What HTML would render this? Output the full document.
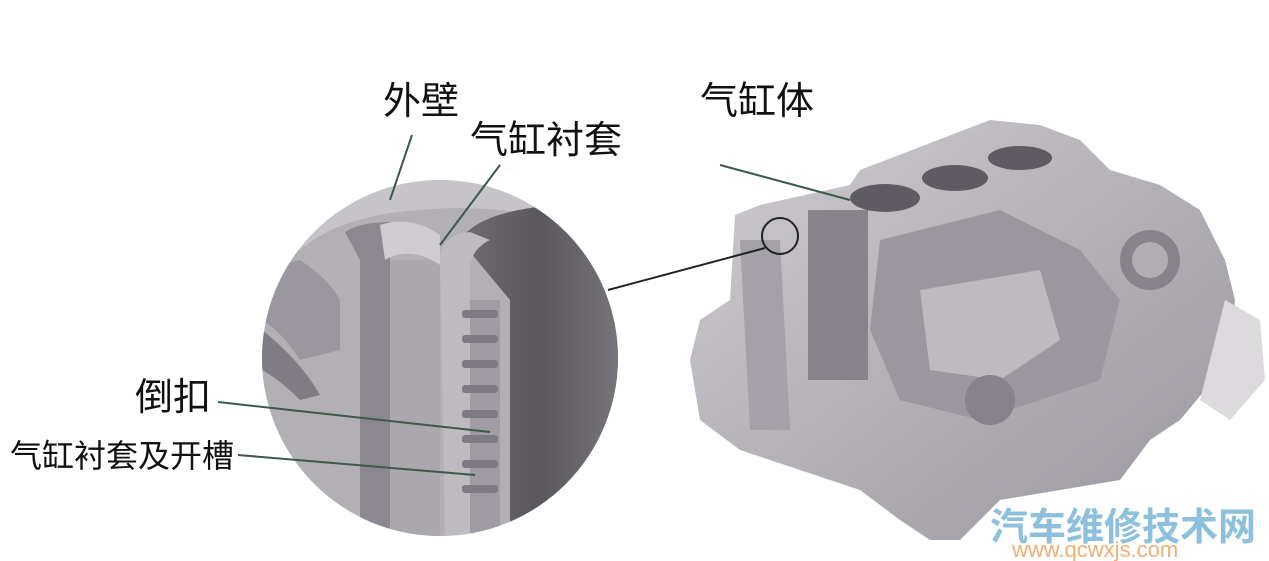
<!DOCTYPE html>
<html><head><meta charset="utf-8"><style>
html,body{margin:0;padding:0;background:#fff}
svg{display:block}
text{font-family:"Liberation Sans","Noto Sans CJK SC",sans-serif}
</style></head><body>
<svg width="1269" height="561" viewBox="0 0 1269 561" xmlns="http://www.w3.org/2000/svg">
<defs>
<clipPath id="c"><circle cx="440" cy="358" r="178"/></clipPath>
<linearGradient id="bore" x1="0" x2="1"><stop offset="0" stop-color="#6e6c70"/><stop offset="0.5" stop-color="#5a585c"/><stop offset="1" stop-color="#77757a"/></linearGradient>
<linearGradient id="eng" x1="0" y1="0" x2="1" y2="1"><stop offset="0" stop-color="#d0cdd2"/><stop offset="0.5" stop-color="#b3b0b6"/><stop offset="1" stop-color="#9a979e"/></linearGradient>
</defs>
<rect width="1269" height="561" fill="#fff"/>
<g clip-path="url(#c)">
<rect x="260" y="180" width="360" height="360" fill="#b3b0b5"/>
<path d="M260 180 H620 V240 Q520 200 420 210 Q340 215 300 250 L260 260Z" fill="#c7c4c9"/>
<path d="M460 240 Q480 210 560 205 L620 210 V540 H510 V300 Z" fill="url(#bore)"/>
<path d="M440 260 Q440 235 470 232 L490 240 Q470 250 470 270 V540 H445 Z" fill="#bdbac0"/>
<rect x="470" y="300" width="30" height="240" fill="#9f9ca3"/>
<g fill="#7d7a82">
<rect x="462" y="310" width="36" height="8" rx="3"/>
<rect x="462" y="335" width="36" height="8" rx="3"/>
<rect x="462" y="360" width="36" height="8" rx="3"/>
<rect x="462" y="385" width="36" height="8" rx="3"/>
<rect x="462" y="410" width="36" height="8" rx="3"/>
<rect x="462" y="435" width="36" height="8" rx="3"/>
<rect x="462" y="460" width="36" height="8" rx="3"/>
<rect x="462" y="485" width="36" height="8" rx="3"/>
</g>
<path d="M345 232 Q360 222 390 222 V540 H360 V260 Z" fill="#8b888f"/>
<rect x="390" y="260" width="50" height="280" fill="#aaa7ad"/>
<path d="M380 225 Q410 215 440 235 L440 265 Q410 245 385 260Z" fill="#cfccd1"/>
<path d="M260 270 L300 260 Q330 280 340 300 V350 L300 360 Q280 330 262 320Z" fill="#9a979e"/>
<path d="M262 330 Q300 360 320 395 L300 400 Q280 380 262 370Z" fill="#7f7c83"/>
</g>
<path d="M735 215 L760 205 L850 185 L860 170 L990 120 L1040 125 L1080 140 L1110 170 L1160 185 L1200 210 L1225 260 L1235 300 L1230 360 L1180 420 L1150 440 L1120 480 L1000 500 L960 540 L930 540 L900 520 L860 490 L800 470 L740 450 L700 420 L690 360 L700 320 L730 300 Z" fill="url(#eng)"/>
<path d="M1225 300 L1260 320 L1265 380 L1230 420 L1200 400Z" fill="#dcdadd"/>
<rect x="808" y="210" width="60" height="170" fill="#86838a"/>
<ellipse cx="885" cy="198" rx="35" ry="14" fill="#5e5b62"/>
<ellipse cx="955" cy="178" rx="33" ry="13" fill="#5e5b62"/>
<ellipse cx="1020" cy="158" rx="32" ry="12" fill="#5e5b62"/>
<path d="M880 240 L1000 210 L1080 250 L1120 300 L1100 380 L1040 400 L980 420 L900 400 L870 330Z" fill="#9a979e"/>
<path d="M920 290 L1040 270 L1060 340 L1000 380 L930 370Z" fill="#bdbac0"/>
<circle cx="1150" cy="260" r="30" fill="#86838a"/>
<circle cx="1150" cy="260" r="18" fill="#b0adb3"/>
<path d="M740 240 L780 240 L790 430 L750 430Z" fill="#a4a1a8"/>
<circle cx="990" cy="400" r="25" fill="#86838a"/>
<circle cx="780" cy="236" r="18" fill="none" stroke="#222" stroke-width="2"/>
<g stroke="#3c5a4a" stroke-width="2" fill="none">
<line x1="412" y1="135" x2="390" y2="200"/>
<line x1="500" y1="165" x2="440" y2="245"/>
<line x1="720" y1="165" x2="850" y2="200"/>
<line x1="218" y1="402" x2="490" y2="432"/>
<line x1="238" y1="455" x2="475" y2="475"/>
</g>
<line x1="608" y1="290" x2="765" y2="248" stroke="#222" stroke-width="2"/>
<g fill="#111">
<text x="383" y="114" font-size="38">外壁</text>
<text x="470" y="153" font-size="38">气缸衬套</text>
<text x="700" y="114" font-size="38">气缸体</text>
<text x="135" y="410" font-size="38">倒扣</text>
<text x="10" y="467" font-size="32">气缸衬套及开槽</text>
</g>
<text x="990" y="540" font-size="38" font-weight="bold" fill="#7ab6d6" opacity="0.85">汽车维修技术网</text>
<text x="1012" y="557" font-size="22" fill="#f0a060" opacity="0.85">www.qcwxjs.com</text>
</svg>
</body></html>
